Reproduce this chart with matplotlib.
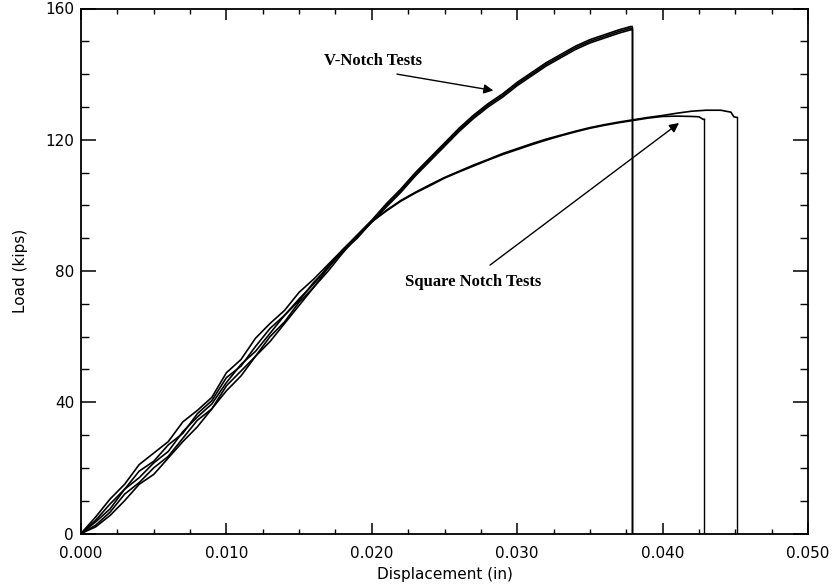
import matplotlib
matplotlib.use("Agg")
import matplotlib.pyplot as plt
from matplotlib.ticker import MultipleLocator

# ---- data ----
x_low = [0.000, 0.001, 0.002, 0.003, 0.004, 0.005, 0.006, 0.007, 0.008, 0.009,
         0.010, 0.011, 0.012, 0.013, 0.014, 0.015, 0.016, 0.017, 0.018, 0.019, 0.020]

# V-notch tests
v_x_high = [0.021, 0.022, 0.023, 0.024, 0.025, 0.026, 0.027, 0.028, 0.029, 0.030,
            0.031, 0.032, 0.033, 0.034, 0.035, 0.036, 0.037, 0.0378]
v1_low = [0.0, 3.5, 7.5, 13.5, 17.0, 21.5, 25.0, 31.0, 35.5, 39.5,
          46.0, 51.5, 55.5, 61.0, 66.5, 71.0, 76.5, 81.0, 86.5, 91.0, 95.5]
v1_high = [100.5, 105.0, 110.0, 114.5, 119.0, 123.5, 127.5, 131.0, 134.0, 137.5,
           140.5, 143.5, 146.0, 148.5, 150.5, 152.0, 153.5, 154.5]
v2_low = [0.0, 2.5, 6.5, 12.0, 15.5, 20.0, 23.5, 29.0, 34.5, 38.0,
          45.0, 49.5, 54.0, 60.0, 64.5, 70.5, 75.0, 81.0, 86.0, 90.5, 95.0]
v2_high = [99.5, 104.0, 109.0, 113.5, 118.0, 122.5, 126.5, 130.0, 133.0, 136.5,
           139.5, 142.5, 145.0, 147.5, 149.5, 151.0, 152.5, 153.5]
v3_low = [0.0, 2.0, 5.5, 10.0, 15.0, 18.0, 23.0, 28.0, 32.5, 38.0,
          43.5, 48.0, 54.0, 58.5, 64.0, 69.5, 75.0, 80.0, 85.5, 90.5, 95.0]
v3_high = [100.0, 104.5, 109.5, 114.0, 118.5, 123.0, 127.0, 130.5, 133.5, 137.0,
           140.0, 143.0, 145.5, 148.0, 150.0, 151.5, 153.0, 154.0]
v_break = [0.0379, 0.0379, 0.0379]

# Square notch tests
s_x_high = [0.021, 0.022, 0.023, 0.024, 0.025, 0.026, 0.027, 0.028, 0.029, 0.030,
            0.031, 0.032, 0.033, 0.034, 0.035, 0.036, 0.037, 0.038, 0.039, 0.040]
s1_low = [0.0, 5.0, 10.5, 15.0, 21.0, 24.5, 28.0, 34.0, 37.5, 41.5,
          49.0, 53.0, 59.5, 64.0, 68.0, 73.5, 77.5, 82.0, 86.5, 90.5, 95.0]
s1_high = [98.5, 101.5, 104.0, 106.3, 108.5, 110.4, 112.3, 114.0, 115.8, 117.3,
           118.8, 120.2, 121.4, 122.6, 123.7, 124.6, 125.4, 126.1, 126.8, 127.4]
s1_tail_x = [0.041, 0.042, 0.043, 0.044, 0.0447, 0.0449, 0.0451]
s1_tail_y = [128.1, 128.7, 129.0, 129.0, 128.4, 127.0, 126.8]
s1_break = 0.0451
s2_low = [0.0, 4.0, 9.0, 13.5, 19.0, 22.0, 27.0, 30.5, 36.5, 40.5,
          47.5, 51.0, 57.0, 62.5, 66.5, 71.5, 76.0, 81.5, 86.0, 90.0, 95.0]
s2_high = [98.3, 101.3, 103.8, 106.0, 108.3, 110.2, 112.0, 113.8, 115.5, 117.0,
           118.5, 119.9, 121.2, 122.4, 123.5, 124.4, 125.2, 125.9, 126.6, 127.1]
s2_tail_x = [0.041, 0.042, 0.0425, 0.0428]
s2_tail_y = [127.2, 127.1, 127.0, 126.2]
s2_break = 0.04287

x_ticks = [0.000, 0.010, 0.020, 0.030, 0.040, 0.050]
x_tick_labels = ["0.000", "0.010", "0.020", "0.030", "0.040", "0.050"]
y_ticks = [0, 40, 80, 120, 160]
y_tick_labels = ["0", "40", "80", "120", "160"]

# ---- figure ----
fig = plt.figure(figsize=(8.34, 5.87), dpi=100)
ax = fig.add_axes([81 / 834, (587 - 533.5) / 587, (808 - 81) / 834, (533.5 - 8.5) / 587])

lw = 1.2
def draw(xl, yl, xh, yh, brk, tx=None, ty=None):
    xs = list(xl) + list(xh)
    ys = list(yl) + list(yh)
    if tx is not None:
        xs += list(tx)
        ys += list(ty)
    xs += [brk]
    ys += [ys[-1]]
    ax.plot(xs, ys, color="black", lw=lw, solid_joinstyle="miter")
    # vertical drop at failure
    ax.plot([brk, brk], [ys[-1], 0.0], color="black", lw=1.0)

draw(x_low, v1_low, v_x_high, v1_high, v_break[0])
draw(x_low, v2_low, v_x_high, v2_high, v_break[1])
draw(x_low, v3_low, v_x_high, v3_high, v_break[2])
draw(x_low, s1_low, s_x_high, s1_high, s1_break, s1_tail_x, s1_tail_y)
draw(x_low, s2_low, s_x_high, s2_high, s2_break, s2_tail_x, s2_tail_y)

ax.set_xlim(0, 0.050)
ax.set_ylim(0, 160)
ax.set_xticks(x_ticks)
ax.set_xticklabels(x_tick_labels)
ax.set_yticks(y_ticks)
ax.set_yticklabels(y_tick_labels)
ax.xaxis.set_minor_locator(MultipleLocator(0.0025))
ax.yaxis.set_minor_locator(MultipleLocator(10))

for s in ax.spines.values():
    s.set_linewidth(1.3)

ax.tick_params(axis="x", which="major", direction="in", length=7.7, width=1.1,
               top=True, labelsize=11, pad=9)
ax.tick_params(axis="x", which="minor", direction="in", length=3.6, width=1.0, top=True)
ax.tick_params(axis="y", which="major", direction="in", length=10.8, width=1.1,
               right=True, labelsize=11, pad=5)
ax.tick_params(axis="y", which="minor", direction="in", length=5.8, width=1.0, right=True)

ax.set_xlabel("Displacement (in)", fontsize=11, labelpad=4)
ax.set_ylabel("Load (kips)", fontsize=11, labelpad=12)

ann_font = dict(family="Liberation Serif", fontsize=12, fontweight="bold")
ax.text(0.02005, 144.1, "V-Notch Tests", ha="center", va="center", **ann_font)
ax.text(0.02698, 76.7, "Square Notch Tests", ha="center", va="center", **ann_font)

arrow = dict(arrowstyle="-|>", mutation_scale=14, lw=1.0, color="black",
             shrinkA=0, shrinkB=0)
ax.annotate("", xy=(0.02836, 135.0), xytext=(0.02173, 140.0), arrowprops=arrow)
ax.annotate("", xy=(0.04113, 125.1), xytext=(0.02813, 81.8), arrowprops=arrow)

fig.savefig("out.png", dpi=100)
